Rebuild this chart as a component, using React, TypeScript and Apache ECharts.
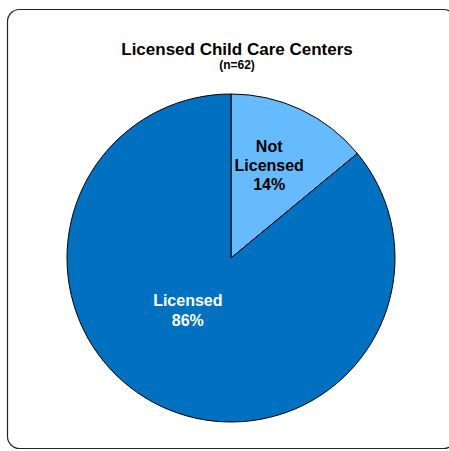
import React, { useEffect, useRef } from "react";
import * as echarts from "echarts";

const categories = ["Not Licensed", "Licensed"];
const values = [14, 86];
const labelNames = ["Not\nLicensed", "Licensed"];
const titleText = "Licensed Child Care Centers";
const subText = "(n=62)";

export default function App() {
  const ref = useRef<HTMLDivElement>(null);
  useEffect(() => {
    if (!ref.current) return;
    const chart = echarts.init(ref.current, null, { renderer: "svg" });
    const font = "'Liberation Sans', Arial, sans-serif";
    chart.setOption({
      animation: false,
      backgroundColor: "#ffffff",
      title: {
        text: titleText,
        subtext: subText,
        left: 232,
        top: 36,
        textAlign: "center",
        itemGap: 1,
        textStyle: { fontFamily: font, fontWeight: "bold", fontSize: 17, color: "#000" },
        subtextStyle: { fontFamily: font, fontWeight: "bold", fontSize: 12, color: "#000" },
      },
      graphic: [
        {
          type: "rect",
          shape: { x: 7.5, y: 9.5, width: 448, height: 439, r: 12 },
          style: { fill: "none", stroke: "#222", lineWidth: 1.2 },
          silent: true,
        },
      ],
      series: [
        {
          type: "pie",
          center: [231, 258],
          radius: 164,
          startAngle: 90,
          clockwise: true,
          silent: true,
          itemStyle: { borderColor: "#000", borderWidth: 1 },
          labelLine: { show: false },
          data: categories.map((c, i) => ({
            name: c,
            value: values[i],
            itemStyle: { color: i === 0 ? "#66BBFF" : "#0070C0" },
            label: {
              show: true,
              position: "inside",
              formatter: () => `${labelNames[i]}\n${values[i]}%`,
              fontFamily: font,
              fontWeight: "bold",
              fontSize: 16,
              lineHeight: i === 0 ? 19 : 20,
              color: i === 0 ? "#000" : "#fff",
              offset: i === 0 ? [2, -16] : [-7, -24],
            },
          })),
        },
      ],
    });
    return () => chart.dispose();
  }, []);
  return (
    <div
      ref={ref}
      style={{ position: "fixed", left: 0, top: 0, width: 449, height: 451 }}
    />
  );
}
